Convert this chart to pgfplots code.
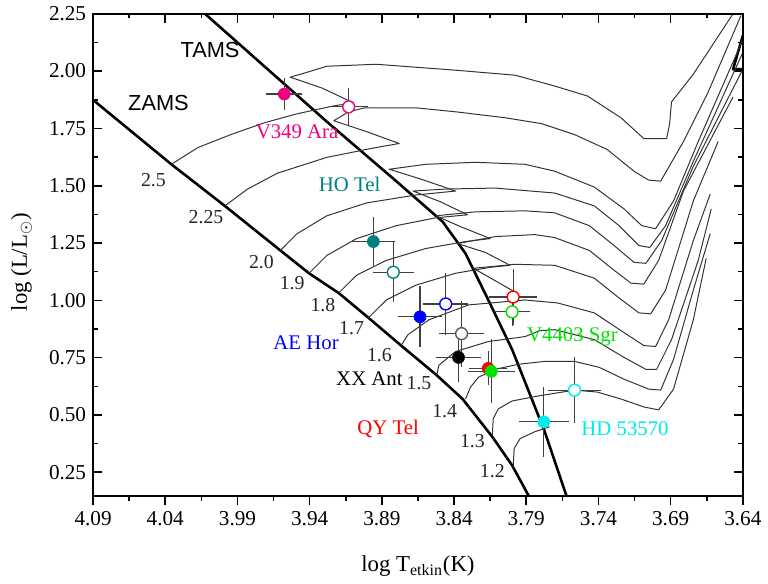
\documentclass[border=0pt]{standalone}
\usepackage{fontspec}
\setmainfont{Liberation Serif}
\newfontfamily\arialfont{Liberation Sans}
\usepackage{pgfplots}
\pgfplotsset{compat=1.18}

\definecolor{cpink}{RGB}{240,0,128}
\definecolor{cteal}{RGB}{0,128,128}
\definecolor{cblue}{RGB}{0,0,255}
\definecolor{cred}{RGB}{255,0,0}
\definecolor{cgreen}{RGB}{0,225,0}
\definecolor{ccyan}{RGB}{0,235,235}
\definecolor{cgray}{RGB}{90,90,90}

\pgfplotsset{
  trk/.style={black!80, line width=0.5pt, line join=round, mark=none},
  zt/.style={black, line width=1.3pt, line join=round, mark=none},
  star/.style={only marks, mark=*, mark size=3pt,
    /pgfplots/error bars/x dir=both, /pgfplots/error bars/x explicit,
    /pgfplots/error bars/y dir=both, /pgfplots/error bars/y explicit,
    /pgfplots/error bars/error bar style={black!75, line width=0.55pt},
    /pgfplots/error bars/error mark options={black!75, mark size=2.2pt, line width=0.55pt}},
  frame/.style={width=328pt, height=243.5pt, scale only axis,
    x dir=reverse, xmin=3.64, xmax=4.09, ymin=0.146, ymax=2.25,
    xtick={3.64,3.69,3.74,3.79,3.84,3.89,3.94,3.99,4.04,4.09},
    minor x tick num=1,
    major tick length=4.5pt, minor tick length=2.3pt,
    axis line style={line width=0.9pt}, tick style={line width=0.8pt, black}},
}
\newcommand{\masslab}[3]{\node[black!85, font=\fontsize{10}{11}\selectfont] at (axis cs:#1,#2) {#3};}
\newcommand{\starlab}[4]{\node[text=#1, font=\fontsize{10.5}{12}\selectfont] at (axis cs:#2,#3) {#4};}

\begin{document}
\begin{tikzpicture}
\begin{axis}[frame,
    ytick={0.25,0.5,0.75,1,1.25,1.5,1.75,2,2.25},
    minor y tick num=1,
    tick align=inside, xtick pos=upper, xticklabel pos=lower, yticklabel pos=left,
    /pgf/number format/fixed, /pgf/number format/fixed zerofill,
    /pgf/number format/precision=2, /pgf/number format/assume math mode=true,
    tick label style={font=\fontsize{10.7}{12}\selectfont},
    xticklabel style={yshift=-4pt},
    xlabel={log T\textsubscript{etkin}(K)},
    ylabel={log (L/L$_{\odot}$)},
    label style={font=\fontsize{11.5}{13}\selectfont},
    xlabel style={at={(axis description cs:0.5,-0.145)}, anchor=center},
    ylabel style={at={(axis description cs:-0.11,0.485)}, anchor=center},
]
% ZAMS and TAMS
\addplot[zt] coordinates {(4.09,1.874) (4.0358,1.5934) (3.9988,1.4120) (3.9603,1.2176) (3.9405,1.1182) (3.9199,1.0319) (3.8993,0.9239) (3.8767,0.8029) (3.8520,0.6733) (3.8341,0.5697) (3.8136,0.4055) (3.7998,0.2802) (3.7882,0.146)};
\addplot[zt] coordinates {(4.0125,2.25) (3.9761,2.047) (3.9281,1.7792) (3.8801,1.52) (3.8479,1.3429) (3.8321,1.2046) (3.8163,1.0016) (3.7998,0.7856) (3.7889,0.6129) (3.7772,0.4271) (3.7621,0.146)};
\addplot[zt] coordinates {(3.64,2.155) (3.6468,2.0081) (3.64,2.0081)};

% evolutionary tracks
% 2.5
\addplot[trk] coordinates {(4.0358,1.5934) (4.0173,1.6668) (3.9946,1.7230) (3.9713,1.7748) (3.9487,1.8137) (3.9233,1.8483) (3.9096,1.8612) (3.9315,1.9260) (3.9535,1.9735) (3.9439,1.9908) (3.9281,2.0211) (3.8938,2.0297) (3.8389,2.0038) (3.7978,1.9822) (3.7703,1.9347) (3.7477,1.8915) (3.7244,1.7964) (3.7086,1.7057) (3.6928,1.7057) (3.6907,1.7705) (3.6894,1.8655) (3.6743,1.9865) (3.6468,2.25)};
% 2.25
\addplot[trk] coordinates {(3.9988,1.4120) (3.9830,1.4854) (3.9624,1.5545) (3.9281,1.6237) (3.8938,1.6668) (3.8780,1.6841) (3.9007,1.7360) (3.9233,1.7835) (3.9130,1.8224) (3.9020,1.8396) (3.8664,1.8396) (3.8389,1.8224) (3.8046,1.7964) (3.7792,1.7705) (3.7566,1.7230) (3.7340,1.6582) (3.7154,1.5632) (3.7052,1.5243) (3.6969,1.5200) (3.6811,1.6928) (3.6640,1.9087) (3.6414,2.2414)};
% 2.0
\addplot[trk] coordinates {(3.9603,1.2176) (3.9487,1.2910) (3.9281,1.3688) (3.9007,1.4249) (3.8664,1.4595) (3.8389,1.4768) (3.8629,1.5286) (3.8849,1.5718) (3.8595,1.5934) (3.8252,1.6021) (3.7909,1.5934) (3.7703,1.5632) (3.7429,1.4941) (3.7223,1.3990) (3.7100,1.3256) (3.7004,1.3126) (3.6880,1.4336) (3.6709,1.6928) (3.6400,2.1377)};
% 1.9
\addplot[trk] coordinates {(3.9405,1.1182) (3.9281,1.1960) (3.9075,1.2694) (3.8801,1.3256) (3.8526,1.3601) (3.8307,1.3731) (3.8492,1.4292) (3.8684,1.4768) (3.8458,1.4854) (3.8115,1.4897) (3.7703,1.4681) (3.7429,1.4120) (3.7257,1.3256) (3.7120,1.2392) (3.7045,1.2306) (3.6935,1.3256) (3.6743,1.6064) (3.6400,2.0815)};
% 1.8
\addplot[trk] coordinates {(3.9199,1.0319) (3.9075,1.1096) (3.8869,1.1744) (3.8595,1.2262) (3.8321,1.2565) (3.8149,1.2694) (3.8355,1.3213) (3.8526,1.3688) (3.8252,1.3860) (3.7909,1.3904) (3.7703,1.3817) (3.7463,1.3256) (3.7292,1.2392) (3.7154,1.1658) (3.7072,1.1614) (3.6962,1.2608) (3.6743,1.5847) (3.6400,2.0081)};
% 1.7
\addplot[trk] coordinates {(3.8993,0.9239) (3.8869,1.0016) (3.8664,1.0664) (3.8389,1.1182) (3.8149,1.1442) (3.8012,1.1528) (3.8183,1.2089) (3.8376,1.2478) (3.8115,1.2781) (3.7840,1.2867) (3.7703,1.2737) (3.7463,1.2176) (3.7292,1.1312) (3.7175,1.0751) (3.7086,1.0707) (3.6983,1.1744) (3.6811,1.4768) (3.6468,1.8871)};
% post-hook branch below 1.7
\addplot[trk] coordinates {(3.7978,1.0362) (3.8266,1.1398) (3.7978,1.1571) (3.7703,1.1528) (3.7429,1.0967) (3.7257,1.0103) (3.7120,0.9454) (3.7038,0.9411) (3.6935,1.0448) (3.6743,1.4336) (3.6571,1.6928)};
% 1.6
\addplot[trk] coordinates {(3.8767,0.8029) (3.8719,0.8504) (3.8574,0.9152) (3.8300,0.9800) (3.7909,1.0016) (3.7683,0.9886) (3.7429,0.9454) (3.7223,0.8591) (3.7086,0.8029) (3.7004,0.7986) (3.6914,0.9152) (3.6743,1.2608) (3.6626,1.4638)};
% 1.5
\addplot[trk] coordinates {(3.8520,0.6733) (3.8506,0.7165) (3.8389,0.7770) (3.8163,0.8202) (3.7909,0.8418) (3.7806,0.8677) (3.7703,0.8720) (3.7429,0.8288) (3.7223,0.7511) (3.7072,0.6992) (3.6997,0.6992) (3.6894,0.8288) (3.6709,1.1744) (3.6619,1.3990)};
% 1.4
\addplot[trk] coordinates {(3.8321,0.5696) (3.8286,0.6215) (3.8231,0.6647) (3.8115,0.6992) (3.7957,0.7208) (3.7772,0.7338) (3.7566,0.7338) (3.7395,0.7079) (3.7223,0.6560) (3.7052,0.6128) (3.6969,0.6085) (3.6880,0.7424) (3.6743,1.0448) (3.6626,1.2910)};
% 1.3
\addplot[trk] coordinates {(3.8135,0.4098) (3.8129,0.4832) (3.8094,0.5264) (3.7998,0.5610) (3.7820,0.5826) (3.7566,0.6085) (3.7408,0.5999) (3.7244,0.5696) (3.7086,0.5351) (3.6983,0.5221) (3.6880,0.6128) (3.6743,0.9152) (3.6654,1.1830)};
% 1.2
\addplot[trk] coordinates {(3.7991,0.2673) (3.7984,0.3537) (3.7943,0.3968) (3.7840,0.4271) (3.7738,0.4487)};

% stars
\addplot[star, mark options={fill=cpink, draw=cpink}] coordinates {(3.9576,1.900) +- (0.0096,0.050)};
\addplot[star, mark options={fill=white, draw=cpink, line width=0.7pt}] coordinates {(3.9130,1.844) +- (0.0106,0.065)};
\addplot[star, mark options={fill=cteal, draw=cteal}] coordinates {(3.8959,1.2564) +- (0.0123,0.089)};
\addplot[star, mark options={fill=white, draw=cteal, line width=0.7pt}] coordinates {(3.8821,1.1225) +- (0.0110,0.112)};
\addplot[star, mark options={fill=cblue, draw=cblue}] coordinates {(3.8636,0.9281) +- (0.0120,0.1145)};
\addplot[star, mark options={fill=white, draw=cblue, line width=0.7pt}] coordinates {(3.8458,0.9842) +- (0.0127,0.117)};
\addplot[star, mark options={fill=white, draw=cgray, line width=0.7pt}] coordinates {(3.8348,0.8547) +- (0.0124,0.125)};
\addplot[star, mark options={fill=black, draw=black}] coordinates {(3.8369,0.7510) +- (0.0127,0.090)};
\addplot[star, mark options={fill=cred, draw=cred}] coordinates {(3.8163,0.7034) +- (0.0100,0.055)};
\addplot[star, mark options={fill=cgreen, draw=cgreen}] coordinates {(3.8142,0.6905) +- (0.0134,0.121)};
\addplot[star, mark options={fill=white, draw=cred, line width=0.7pt}] coordinates {(3.7991,1.0145) +- (0.0137,0.104)};
\addplot[star, mark options={fill=white, draw=cgreen, line width=0.7pt}] coordinates {(3.7998,0.9497) +- (0.0096,0.043)};
\addplot[star, mark options={fill=ccyan, draw=ccyan}] coordinates {(3.7779,0.4702) +- (0.0144,0.134)};
\addplot[star, mark options={fill=white, draw=ccyan, line width=0.7pt}] coordinates {(3.7566,0.6084) +- (0.0151,0.125)};

% labels
\node[font=\arialfont\fontsize{11}{12}\selectfont] at (axis cs:4.009,2.094) {TAMS};
\node[font=\arialfont\fontsize{11}{12}\selectfont] at (axis cs:4.0447,1.861) {ZAMS};
\starlab{cpink}{3.9487}{1.736}{V349 Ara}
\starlab{cteal}{3.9123}{1.507}{HO Tel}
\starlab{cblue}{3.9425}{0.816}{AE Hor}
\starlab{black}{3.8986}{0.660}{XX Ant}
\starlab{cred}{3.8856}{0.440}{QY Tel}
\starlab{cgreen}{3.7580}{0.842}{V4403 Sgr}
\starlab{ccyan}{3.7216}{0.440}{HD 53570}
\masslab{4.0482}{1.524}{2.5}
\masslab{4.0118}{1.364}{2.25}
\masslab{3.9734}{1.166}{2.0}
\masslab{3.9521}{1.075}{1.9}
\masslab{3.9308}{0.980}{1.8}
\masslab{3.9110}{0.881}{1.7}
\masslab{3.8917}{0.760}{1.6}
\masslab{3.8643}{0.639}{1.5}
\masslab{3.8465}{0.518}{1.4}
\masslab{3.8273}{0.388}{1.3}
\masslab{3.8135}{0.254}{1.2}
\end{axis}
\begin{axis}[frame, tick align=outside, xtick pos=lower, xticklabels={}, ytick=\empty]
\end{axis}
\path (current axis.south west) ++(-47pt,-43pt) rectangle ++(384pt,292pt);
\end{tikzpicture}
\end{document}
